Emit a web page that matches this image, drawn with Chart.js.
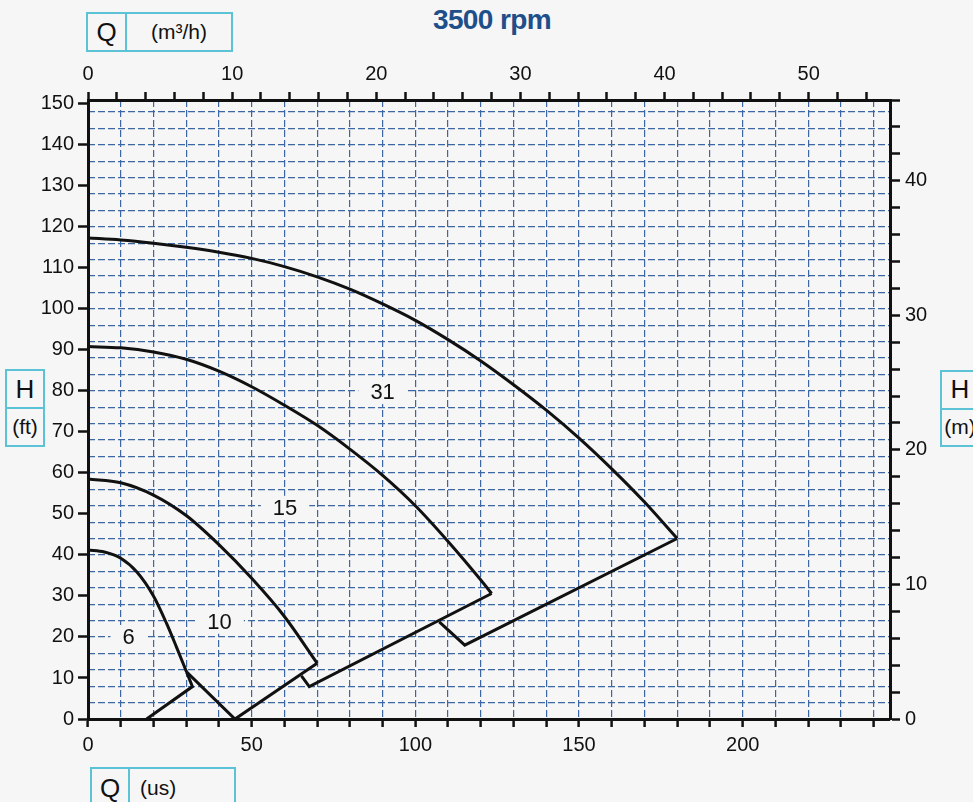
<!DOCTYPE html>
<html>
<head>
<meta charset="utf-8">
<script src="https://cdn.jsdelivr.net/npm/chart.js@4.4.0/dist/chart.umd.min.js"></script>
<style>
  body {
    margin: 0;
    width: 973px;
    height: 802px;
    overflow: hidden;
    position: relative;
    background: #f6f6f6;
    font-family: "Liberation Sans", Arial, sans-serif;
    color: #111;
  }
  #myChart { position: absolute; left: 0; top: 0; }
  .title {
    position: absolute; left: 392px; top: 4px; width: 200px;
    text-align: center; font-weight: bold; font-size: 28px;
    color: #1e4f8a; letter-spacing: -0.6px;
  }
  .box {
    position: absolute; box-sizing: border-box;
    border: 2.5px solid #5cc3d6; display: flex;
  }
  .box.row > div { display: flex; align-items: center; }
  .box.col { flex-direction: column; }
  .box.col > div { flex: 1; display: flex; align-items: center; justify-content: center; }
  .big { font-size: 26px; }
  .small { font-size: 21px; }
</style>
</head>
<body>
<div class="title">3500 rpm</div>

<div class="box row" style="left:86px; top:12px; width:147px; height:40px;">
  <div class="big" style="width:37px; justify-content:center; border-right:2.5px solid #5cc3d6;">Q</div>
  <div class="small" style="flex:1; justify-content:center;">(m³/h)</div>
</div>

<div class="box row" style="left:90px; top:767px; width:146px; height:42px;">
  <div class="big" style="width:36px; justify-content:center; border-right:2.5px solid #5cc3d6;">Q</div>
  <div class="small" style="flex:1; padding-left:10px;">(us)</div>
</div>

<div class="box col" style="left:5px; top:369px; width:40px; height:78px;">
  <div class="big" style="border-bottom:2.5px solid #5cc3d6;">H</div>
  <div class="small">(ft)</div>
</div>

<div class="box col" style="left:940px; top:370px; width:40px; height:77px;">
  <div class="big" style="border-bottom:2.5px solid #5cc3d6;">H</div>
  <div class="small">(m)</div>
</div>

<canvas id="myChart" width="973" height="802"></canvas>

<script>
/* Q in US gpm, H in ft */
const flow31 = [0, 10, 20, 30, 40, 50, 60, 70, 80, 90, 100, 110, 120, 130, 140, 150, 160, 170, 180];
const head31 = [117.3, 116.8, 116.0, 115.0, 113.8, 112.3, 110.3, 107.8, 104.8, 101.2, 97.2, 92.5, 87.3, 81.5, 75.3, 68.5, 61.0, 52.9, 44.0];

const flow15 = [0, 10, 20, 30, 40, 50, 60, 70, 80, 90, 100, 110, 120, 123.3];
const head15 = [90.8, 90.5, 89.5, 87.7, 84.8, 81.0, 76.5, 71.6, 65.8, 59.4, 52.0, 43.3, 33.9, 30.6];

const flow10 = [0, 10, 20, 30, 40, 50, 60, 70];
const head10 = [58.5, 57.6, 54.6, 49.6, 42.5, 34.3, 25.0, 13.6];

const flow6 = [0, 5, 10, 15, 20, 24, 27, 30.1];
const head6 = [41.2, 40.7, 39.2, 35.8, 30.0, 23.3, 17.6, 11.5];

/* boundary lines closing each curve */
const edgeFlow31 = [180, 115.1, 107.3];
const edgeHead31 = [44.0, 18.0, 23.7];
const edgeFlow15 = [123.3, 67.6, 65.2];
const edgeHead15 = [30.6, 7.9, 10.5];
const edgeFlow10 = [70, 44.9, 30.1];
const edgeHead10 = [13.6, 0, 11.5];
const edgeFlow6 = [30.1, 31.9, 17.9];
const edgeHead6 = [11.5, 7.9, 0];

const curveLabels = ["31", "15", "10", "6"];
const labelFlow = [90, 60.2, 40.2, 12.4];
const labelHead = [79.7, 51.5, 23.7, 20.0];

const flowMax = 245; // gpm
const headMax = 150.92; // ft (= 46 m)
const GPM_PER_M3H = 4.40287;
const M_PER_FT = 0.3048;

const fontFamily = "'Liberation Sans', Arial, sans-serif";
const ink = "#111";
const gridBlue = "#3d67a4";

const toPoints = (xs, ys) => xs.map((q, i) => ({ x: q, y: ys[i] }));

const curve = (xs, ys) => ({
  data: toPoints(xs, ys),
  borderColor: ink,
  borderWidth: 3,
  cubicInterpolationMode: "monotone",
  pointRadius: 0,
  clip: 6,
});
const edge = (xs, ys) => ({
  data: toPoints(xs, ys),
  borderColor: ink,
  borderWidth: 3,
  tension: 0,
  pointRadius: 0,
  clip: 6,
  borderJoinStyle: "miter",
});

const curveLabelPlugin = {
  id: "curveLabels",
  beforeDatasetsDraw(chart) {
    const { ctx, scales: { x, y } } = chart;
    ctx.save();
    ctx.font = "22px " + fontFamily;
    ctx.textAlign = "center";
    ctx.textBaseline = "middle";
    curveLabels.forEach((text, i) => {
      const px = x.getPixelForValue(labelFlow[i]);
      const py = y.getPixelForValue(labelHead[i]);
      const w = ctx.measureText(text).width;
      ctx.fillStyle = "#f6f6f6";
      ctx.fillRect(px - w / 2 - 12, py - 12, w + 24, 24);
      ctx.fillStyle = ink;
      ctx.fillText(text, px, py + 1);
    });
    ctx.restore();
  },
};

const tickFont = { family: fontFamily, size: 20 };

const ctx = document.getElementById("myChart");
new Chart(ctx, {
  type: "line",
  data: {
    datasets: [
      curve(flow31, head31),
      edge(edgeFlow31, edgeHead31),
      curve(flow15, head15),
      edge(edgeFlow15, edgeHead15),
      curve(flow10, head10),
      edge(edgeFlow10, edgeHead10),
      curve(flow6, head6),
      edge(edgeFlow6, edgeHead6),
    ],
  },
  options: {
    responsive: false,
    animation: false,
    layout: { padding: 0 },
    plugins: {
      legend: { display: false },
      tooltip: { enabled: false },
    },
    scales: {
      x: {
        type: "linear",
        position: "bottom",
        min: 0,
        max: flowMax,
        ticks: {
          stepSize: 10,
          includeBounds: false,
          autoSkip: false,
          maxRotation: 0,
          padding: 6,
          color: ink,
          font: tickFont,
          callback: (v) => (v % 50 === 0 ? v : ""),
        },
        grid: {
          color: gridBlue,
          lineWidth: 1.2,
          tickColor: ink,
          tickWidth: 2.5,
          tickLength: 8,
        },
        border: { display: true, color: ink, width: 3, dash: [7, 3] },
        afterFit: (s) => { s.height = 83; },
      },
      x2: {
        type: "linear",
        position: "top",
        min: 0,
        max: flowMax / GPM_PER_M3H,
        ticks: {
          stepSize: 2,
          includeBounds: false,
          autoSkip: false,
          maxRotation: 0,
          padding: 6,
          color: ink,
          font: tickFont,
          callback: (v) => (v % 10 === 0 ? v : ""),
        },
        grid: {
          drawOnChartArea: false,
          tickColor: ink,
          tickWidth: 2.5,
          tickLength: 8,
        },
        border: { display: true, color: ink, width: 3 },
        afterFit: (s) => { s.height = 100; },
      },
      y: {
        type: "linear",
        position: "left",
        min: 0,
        max: headMax,
        ticks: {
          stepSize: 10,
          includeBounds: false,
          autoSkip: false,
          padding: 4,
          color: ink,
          font: tickFont,
        },
        grid: {
          drawOnChartArea: false,
          tickColor: ink,
          tickWidth: 2.5,
          tickLength: 10,
        },
        border: { display: true, color: ink, width: 3 },
        afterFit: (s) => { s.width = 88; },
      },
      yGrid: {
        type: "linear",
        position: "left",
        min: 0,
        max: headMax,
        ticks: { display: false, stepSize: 4, includeBounds: false, autoSkip: false },
        grid: { color: gridBlue, lineWidth: 1.2, drawTicks: false },
        border: { display: false, dash: [7, 3] },
        afterFit: (s) => { s.width = 0; },
      },
      y2: {
        type: "linear",
        position: "right",
        min: 0,
        max: headMax * M_PER_FT,
        ticks: {
          stepSize: 2,
          includeBounds: false,
          autoSkip: false,
          padding: 5,
          color: ink,
          font: tickFont,
          callback: (v) => (Math.round(v) % 10 === 0 ? Math.round(v) : ""),
        },
        grid: {
          drawOnChartArea: false,
          tickColor: ink,
          tickWidth: 2.5,
          tickLength: 10,
        },
        border: { display: true, color: ink, width: 3 },
        afterFit: (s) => { s.width = 83; },
      },
    },
  },
  plugins: [curveLabelPlugin],
});
</script>
</body>
</html>
